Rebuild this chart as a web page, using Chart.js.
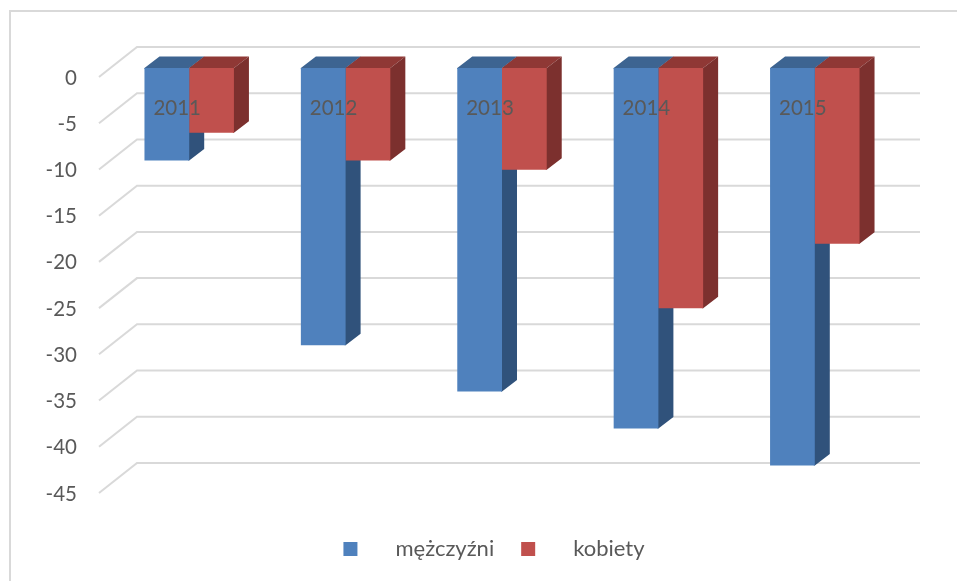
<!DOCTYPE html>
<html lang="pl">
<head>
<meta charset="utf-8">
<style>html,body{margin:0;padding:0;background:#fff}#w{width:957px;height:581px}</style>
<script src="https://cdn.jsdelivr.net/npm/chart.js@4"></script>
</head>
<body>
<div id="w"><canvas id="c" width="957" height="581"></canvas></div>
<script>
const years = ['2011','2012','2013','2014','2015'];
const men = [-10,-30,-35,-39,-43];
const women = [-7,-10,-11,-26,-19];
const seriesNames = ['mężczyźni','kobiety'];
const fronts = ['#4F81BD','#C0504D'];
const sides = ['#30527B','#7C302E'];
const tops = ['#3D6491','#8F3835'];
const gridColor = '#D9D9D9', textColor = '#595959';
const FONT = 'Lato';
const DX = 15, DY = 11.5, LIFT = 10;

function poly(ctx, pts, fill){
  ctx.fillStyle = fill; ctx.beginPath();
  pts.forEach((p,i)=> i ? ctx.lineTo(p[0],p[1]) : ctx.moveTo(p[0],p[1]));
  ctx.closePath(); ctx.fill();
}
const scene = {
  id:'scene',
  beforeDraw(chart){
    const ctx = chart.ctx, y = chart.scales.y, a = chart.chartArea;
    ctx.save();
    ctx.fillStyle = '#fff'; ctx.fillRect(0,0,chart.width,chart.height);
    ctx.strokeStyle = gridColor; ctx.lineWidth = 2;
    ctx.beginPath(); ctx.moveTo(10,chart.height); ctx.lineTo(10,11); ctx.lineTo(chart.width,11); ctx.stroke();
    y.ticks.forEach(t=>{
      const py = y.getPixelForValue(t.value) - 1;
      ctx.beginPath();
      ctx.moveTo(a.left-12, py);
      ctx.lineTo(a.left+26, py-30);
      ctx.lineTo(a.right+27, py-30);
      ctx.stroke();
    });
    ctx.restore();
    const lg = chart.legend;
    lg.top = 511; lg.bottom = chart.height; lg.left = 31; lg.right = 957;
  },
  beforeDatasetsDraw(chart){
    const ctx = chart.ctx;
    ctx.save();
    ctx.translate(0,-LIFT);
    [0,1].forEach(d=>{
      chart.getDatasetMeta(d).data.forEach(b=>{
        const {x,y,base,width} = b.getProps(['x','y','base','width'],true);
        const l = x-width/2, r = x+width/2;
        poly(ctx,[[l,base+1],[l,base],[l+DX,base-DY],[r+DX,base-DY],[r,base],[r,base+1]],tops[d]);
        poly(ctx,[[r-1,base],[r,base],[r+DX,base-DY],[r+DX,y-DY],[r,y],[r-1,y]],sides[d]);
      });
    });
  },
  afterDatasetsDraw(chart){ chart.ctx.restore(); },
  afterDraw(chart){
    const ctx = chart.ctx, lg = chart.legend, pad = lg.options.labels.padding;
    let left = (lg.left + pad + lg.right - lg.lineWidths[0]) / 2;
    lg.legendHitBoxes.forEach((h,i)=>{
      ctx.fillStyle = fronts[i];
      ctx.fillRect(left, lg.top + pad + (h.height-14)/2, 14, 14);
      left += h.width + pad;
    });
  }
};

new Chart(document.getElementById('c'),{
  type:'bar',
  data:{labels:years,datasets:[
    {label:seriesNames[0],data:men,backgroundColor:fronts[0],borderWidth:0,clip:false},
    {label:seriesNames[1],data:women,backgroundColor:fronts[1],borderWidth:0,clip:false}
  ]},
  options:{
    responsive:false,animation:false,
    categoryPercentage:0.572,barPercentage:1,
    layout:{padding:{left:0,right:64,top:78,bottom:28}},
    plugins:{
      tooltip:{enabled:false},
      title:{display:false},
      legend:{
        position:'bottom',
        labels:{
          boxWidth:41,boxHeight:14,padding:27,color:textColor,
          font:{family:FONT,size:22},
          generateLabels(chart){
            return chart.data.datasets.map((d,i)=>({text:d.label,datasetIndex:i,fillStyle:'rgba(0,0,0,0)',strokeStyle:'rgba(0,0,0,0)',lineWidth:0,fontColor:textColor,hidden:false}));
          }
        }
      }
    },
    scales:{
      x:{
        position:{y:0},
        grid:{display:false,drawTicks:false},border:{display:false},
        ticks:{z:1,color:textColor,font:{family:FONT,size:20.5},padding:17.7,labelOffset:-12,maxRotation:0,autoSkip:false}
      },
      y:{
        min:-45,max:0,
        afterFit(s){s.width=111;},
        grid:{display:false,drawTicks:false},border:{display:false},
        ticks:{stepSize:5,color:textColor,font:{family:FONT,size:20.5},padding:34}
      }
    }
  },
  plugins:[scene]
});
</script>
</body>
</html>
